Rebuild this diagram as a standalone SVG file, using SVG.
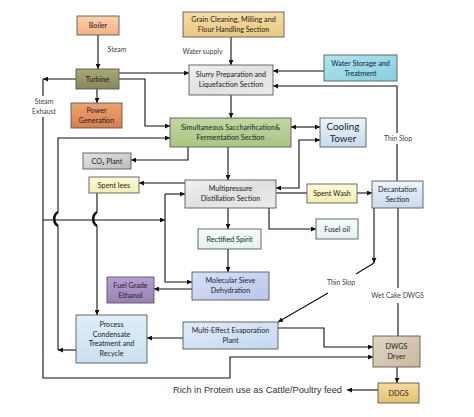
<svg xmlns="http://www.w3.org/2000/svg" width="474" height="417" viewBox="0 0 474 417">
<style>
.b{stroke:#5a5a5a;stroke-width:0.9}
.t{font-family:Lato,"Liberation Sans",sans-serif;font-size:7.2px;fill:#1c1c28;text-anchor:middle}
.big{font-size:9.8px}
.l{font-family:Lato,"Liberation Sans",sans-serif;font-size:6.9px;fill:#444;text-anchor:middle}
.c{fill:none;stroke:#111;stroke-width:1.1}
.a{marker-end:url(#ah)}
.s{marker-start:url(#ah)}
.hop{fill:none;stroke:#111;stroke-width:2.6}
</style>
<defs>
<marker id="ah" viewBox="0 0 6 6" refX="6" refY="3" markerWidth="5" markerHeight="5" markerUnits="userSpaceOnUse" orient="auto-start-reverse"><path d="M0,0L6,3L0,6z" fill="#111"/></marker>
<linearGradient id="gBoiler" x1="0" y1="0" x2="0" y2="1"><stop offset="0" stop-color="#fbd2ac"/><stop offset="1" stop-color="#f4b184"/></linearGradient>
<linearGradient id="gTurb" x1="0" y1="0" x2="0" y2="1"><stop offset="0" stop-color="#a8a878"/><stop offset="1" stop-color="#86865a"/></linearGradient>
<linearGradient id="gPow" x1="0" y1="0" x2="0" y2="1"><stop offset="0" stop-color="#eda270"/><stop offset="1" stop-color="#d9804a"/></linearGradient>
<linearGradient id="gGrain" x1="0" y1="0" x2="0" y2="1"><stop offset="0" stop-color="#f6dca4"/><stop offset="1" stop-color="#e9c87e"/></linearGradient>
<linearGradient id="gGrey" x1="0" y1="0" x2="1" y2="1"><stop offset="0" stop-color="#f2f2f2"/><stop offset="0.5" stop-color="#e0e0e0"/><stop offset="1" stop-color="#ececec"/></linearGradient>
<linearGradient id="gCO2" x1="0" y1="0" x2="1" y2="1"><stop offset="0" stop-color="#e4e4e4"/><stop offset="1" stop-color="#bdbdbd"/></linearGradient>
<linearGradient id="gWater" x1="0" y1="0" x2="1" y2="1"><stop offset="0" stop-color="#b0e4ef"/><stop offset="1" stop-color="#84cfe2"/></linearGradient>
<linearGradient id="gGreen" x1="0" y1="0" x2="0" y2="1"><stop offset="0" stop-color="#c2d8a0"/><stop offset="1" stop-color="#a9c482"/></linearGradient>
<linearGradient id="gLB" x1="0" y1="0" x2="0" y2="1"><stop offset="0" stop-color="#eef4fa"/><stop offset="1" stop-color="#c9d9ec"/></linearGradient>
<linearGradient id="gYel" x1="0" y1="0" x2="0" y2="1"><stop offset="0" stop-color="#fdfdd8"/><stop offset="1" stop-color="#f3efb0"/></linearGradient>
<linearGradient id="gPale" x1="0" y1="0" x2="0" y2="1"><stop offset="0" stop-color="#f6fcfc"/><stop offset="1" stop-color="#e0f2f0"/></linearGradient>
<linearGradient id="gMol" x1="0" y1="0" x2="1" y2="1"><stop offset="0" stop-color="#d8e0f8"/><stop offset="1" stop-color="#b8c6ec"/></linearGradient>
<linearGradient id="gPur" x1="0" y1="0" x2="0" y2="1"><stop offset="0" stop-color="#b4a0d0"/><stop offset="1" stop-color="#9880b6"/></linearGradient>
<linearGradient id="gProc" x1="0" y1="0" x2="0" y2="1"><stop offset="0" stop-color="#dfeef8"/><stop offset="1" stop-color="#cbe0ef"/></linearGradient>
<linearGradient id="gMEE" x1="0" y1="0" x2="1" y2="1"><stop offset="0" stop-color="#e0ecfa"/><stop offset="1" stop-color="#c4d8f0"/></linearGradient>
<linearGradient id="gDry" x1="0" y1="0" x2="1" y2="1"><stop offset="0" stop-color="#e2d6c2"/><stop offset="1" stop-color="#c8b89c"/></linearGradient>
<linearGradient id="gDDGS" x1="0" y1="0" x2="0" y2="1"><stop offset="0" stop-color="#f6dc9e"/><stop offset="1" stop-color="#e4bf6c"/></linearGradient>
</defs>
<rect width="474" height="417" fill="#fff"/>

<g id="connectors">
<path class="c a" d="M98,35V69"/>
<path class="c a" d="M97,89V103"/>
<path class="c a" d="M76,79H43"/>
<path class="c" d="M43,79V96"/>
<path class="c a" d="M43,117V378H230V357H373"/>
<path class="c a" d="M119,73H189"/>
<path class="c a" d="M119,79H145V126H170"/>
<path class="c a" d="M231,37V65"/>
<path class="c a" d="M231,95V118"/>
<path class="c a" d="M324,71H273"/>
<path class="c" d="M397,181V144"/>
<path class="c a" d="M397,133V86H273"/>
<path class="c a s" d="M291,127H320"/>
<path class="c a s" d="M276,188H299V140H320"/>
<path class="c a" d="M188,147V160H131"/>
<path class="c a" d="M228,147V180"/>
<path class="c a" d="M185,183H139"/>
<path class="c" d="M276,193H307"/>
<path class="c a" d="M357,193H372"/>
<path class="c a" d="M269,208V229H316"/>
<path class="c a" d="M228,208V229"/>
<path class="c a" d="M228,249V272"/>
<path class="c a" d="M192,289H154"/>
<path class="c a" d="M43,220H165"/>
<path class="c a" d="M165,194H185"/>
<path class="c a" d="M165,194V282H192"/>
<path class="c a" d="M76,350H58"/>
<path class="c" d="M58,350V226"/>
<path class="c a" d="M58,212V138H170"/>
<path class="hop" d="M58,212C53,215 53,223 58,226"/>
<path class="c" d="M97,193V212"/>
<path class="c a" d="M97,226V315"/>
<path class="hop" d="M97,212C92,215 92,223 97,226"/>
<path class="c a" d="M183,338H147"/>
<path class="c a" d="M278,328H324V347H373"/>
<path class="c a" d="M374,208V263"/>
<path class="c" d="M374,263L356,274"/>
<path class="c a" d="M328,293L278,322"/>
<path class="c" d="M398,208V288"/>
<path class="c" d="M398,303V336"/>
<path class="c a" d="M397,367V383"/>
<path class="c a" d="M378,390H347"/>
</g>

<g id="edge-labels">
<text class="l" x="117" y="51.5">Steam</text>
<text class="l" x="202.5" y="53.5">Water supply</text>
<text class="l" x="44" y="104">Steam</text>
<text class="l" x="44" y="114">Exhaust</text>
<text class="l" x="398" y="141">Thin Slop</text>
<text class="l" x="341" y="285">Thin Slop</text>
<text class="l" x="397.5" y="298">Wet Cake DWGS</text>
<text x="173" y="393" font-family="'Liberation Sans',Arial,sans-serif" font-size="9.3" fill="#333" textLength="169">Rich in Protein use as Cattle/Poultry feed</text>
</g>

<g id="boiler"><rect class="b" x="77" y="16" width="42" height="19" fill="url(#gBoiler)"/><text class="t" x="98" y="28">Boiler</text></g>
<g id="turbine"><rect class="b" x="76" y="69" width="43" height="20" fill="url(#gTurb)"/><text class="t" x="97.5" y="81.5">Turbine</text></g>
<g id="power"><rect class="b" x="71" y="103" width="51" height="25" fill="url(#gPow)"/><text class="t" x="96.5" y="113">Power</text><text class="t" x="96.5" y="123">Generation</text></g>
<g id="grain"><rect class="b" x="183" y="12" width="101" height="25" fill="url(#gGrain)"/><text class="t" x="233.5" y="22">Grain Cleaning, Milling and</text><text class="t" x="233.5" y="32">Flour Handling Section</text></g>
<g id="slurry"><rect class="b" x="189" y="65" width="84" height="30" fill="url(#gGrey)"/><text class="t" x="231" y="77">Slurry Preparation and</text><text class="t" x="231" y="87">Liquefaction Section</text></g>
<g id="water"><rect class="b" x="324" y="55" width="73" height="26" fill="url(#gWater)"/><text class="t" x="360.5" y="65.5">Water Storage and</text><text class="t" x="360.5" y="75.5">Treatment</text></g>
<g id="ssf"><rect class="b" x="170" y="118" width="121" height="29" fill="url(#gGreen)"/><text class="t" x="230.5" y="130">Simultaneous Saccharification&amp;</text><text class="t" x="230.5" y="140">Fermentation Section</text></g>
<g id="cooling"><rect class="b" x="320" y="118" width="46" height="29" fill="url(#gLB)"/><text class="t big" x="343" y="130">Cooling</text><text class="t big" x="343" y="142">Tower</text></g>
<g id="co2"><rect class="b" x="83" y="153" width="48" height="16" fill="url(#gCO2)"/><text class="t" x="107" y="163.5">CO₂ Plant</text></g>
<g id="spentlees"><rect class="b" x="89" y="177" width="50" height="16" fill="url(#gYel)"/><text class="t" x="114" y="187.5">Spent lees</text></g>
<g id="distill"><rect class="b" x="185" y="180" width="91" height="28" fill="url(#gGrey)"/><text class="t" x="230.5" y="191">Multipressure</text><text class="t" x="230.5" y="201">Distillation Section</text></g>
<g id="spentwash"><rect class="b" x="307" y="184" width="50" height="19" fill="url(#gYel)"/><text class="t" x="332" y="196">Spent Wash</text></g>
<g id="decant"><rect class="b" x="372" y="181" width="51" height="27" fill="url(#gLB)"/><text class="t" x="397.5" y="192">Decantation</text><text class="t" x="397.5" y="202">Section</text></g>
<g id="fusel"><rect class="b" x="316" y="219" width="42" height="20" fill="url(#gPale)"/><text class="t" x="337" y="231.5">Fusel oil</text></g>
<g id="rectified"><rect class="b" x="198" y="229" width="63" height="20" fill="url(#gPale)"/><text class="t" x="229.5" y="241.5">Rectified Spirit</text></g>
<g id="molsieve"><rect class="b" x="192" y="272" width="77" height="28" fill="url(#gMol)"/><text class="t" x="230.5" y="283">Molecular Sieve</text><text class="t" x="230.5" y="293">Dehydration</text></g>
<g id="ethanol"><rect class="b" x="107" y="277" width="47" height="26" fill="url(#gPur)"/><text class="t" x="130.5" y="287.5">Fuel Grade</text><text class="t" x="130.5" y="297.5">Ethanol</text></g>
<g id="condensate"><rect class="b" x="76" y="315" width="71" height="48" fill="url(#gProc)"/><text class="t" x="111.5" y="327">Process</text><text class="t" x="111.5" y="336.5">Condensate</text><text class="t" x="111.5" y="346">Treatment and</text><text class="t" x="111.5" y="355.5">Recycle</text></g>
<g id="evaporation"><rect class="b" x="183" y="322" width="95" height="27" fill="url(#gMEE)"/><text class="t" x="230.5" y="333">Multi-Effect Evaporation</text><text class="t" x="230.5" y="343">Plant</text></g>
<g id="dryer"><rect class="b" x="373" y="336" width="47" height="31" fill="url(#gDry)"/><text class="t" x="396.5" y="349">DWGS</text><text class="t" x="396.5" y="359">Dryer</text></g>
<g id="ddgs"><rect class="b" x="378" y="383" width="41" height="20" fill="url(#gDDGS)"/><text class="t" x="398.5" y="395.5">DDGS</text></g>
</svg>
